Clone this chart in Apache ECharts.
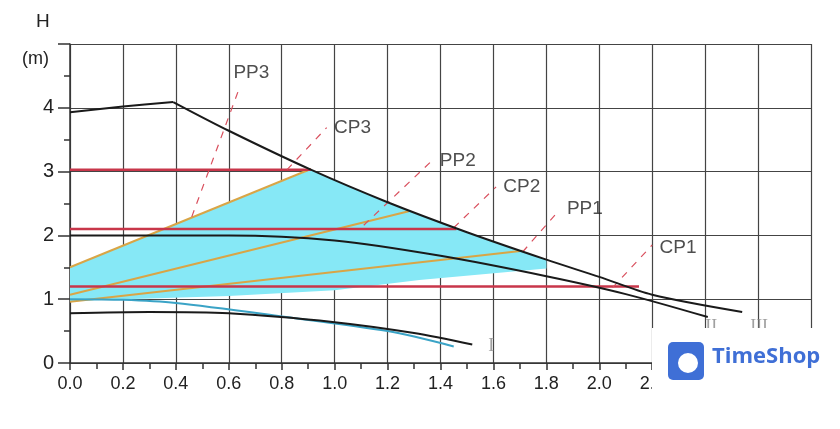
<!DOCTYPE html>
<html>
<head>
<meta charset="utf-8">
<script src="https://cdn.jsdelivr.net/npm/echarts@6/dist/echarts.min.js"></script>
<style>html,body{margin:0;background:#fff}#c{width:840px;height:429px}</style>
</head>
<body>
<div id="c"></div>
<script>
// pump curves (flow, head)
const curveIIIrise = [[0,3.93],[0.2,4.02],[0.39,4.09]];
const curveIII = [[0.39,4.09],[0.6,3.64],[0.91,3.03],[1.2,2.52],[1.5,2.05],[1.8,1.62],[2.0,1.35],[2.2,1.07],[2.54,0.8]];
const curveII = [[0,2.0],[0.6,2.0],[1.0,1.92],[1.4,1.68],[1.8,1.36],[2.1,1.08],[2.41,0.72]];
const curveI = [[0,0.78],[0.3,0.8],[0.6,0.78],[1.0,0.64],[1.3,0.47],[1.52,0.29]];
const blueLine = [[0,1.0],[0.2,0.99],[0.4,0.94],[0.8,0.73],[1.2,0.5],[1.45,0.26]];
const orangeLines = [[[0,1.5],[0.91,3.04]],[[0,1.07],[1.28,2.38]],[[0,0.96],[1.71,1.76]]];
const redLines = [[[0,3.03],[0.91,3.03]],[[0,2.1],[1.46,2.1]],[[0,1.2],[2.15,1.2]]];
const dashLines = [[[0.46,2.29],[0.64,4.31]],[[0.82,3.03],[0.97,3.69]],[[1.11,2.16],[1.36,3.14]],[[1.45,2.12],[1.61,2.76]],[[1.71,1.74],[1.85,2.4]],[[2.05,1.18],[2.2,1.85]]];
const dashNames = ['PP3','CP3','PP2','CP2','PP1','CP1'];
const dashLabelPos = [[0.61,4.55],[0.99,3.69],[1.39,3.17],[1.63,2.77],[1.87,2.41],[2.22,1.8]];
const cyanArea = [[0,1.5],[0.91,3.03],[1.2,2.52],[1.5,2.05],[1.8,1.62],[1.8,1.48],[1.32,1.3],[1.0,1.14],[0.6,1.05],[0,0.97]];
const curveNames = ['I','II','III'];
const curveLabelPos = [[1.58,0.26],[2.4,0.56],[2.57,0.56]];
const xMax = 2.8, yMax = 5;

const line = (data, color, width, extra) => Object.assign({
  type: 'line', data, symbol: 'none', silent: true,
  lineStyle: { color, width }, z: 3
}, extra || {});

const series = [];
series.push({
  type: 'custom', silent: true, z: 1,
  renderItem: (params, api) => ({
    type: 'polygon',
    shape: { points: cyanArea.map(p => api.coord(p)) },
    style: { fill: '#86e8f6' }
  }),
  data: [0]
});
orangeLines.forEach(d => series.push(line(d, '#d9a546', 2)));
redLines.forEach(d => series.push(line(d, '#c8364a', 2.5)));
dashLines.forEach(d => series.push(line(d, '#d9505e', 1.2, { lineStyle: { color: '#d9505e', width: 1.2, type: [7, 7] } })));
series.push(line(blueLine, '#3aa3c6', 2, { smooth: 0.3 }));
series.push(line(curveIIIrise, '#1a1a1a', 2, { smooth: 0.3 }));
series.push(line(curveIII, '#1a1a1a', 2, { smooth: 0.3 }));
series.push(line(curveII, '#1a1a1a', 2, { smooth: 0.3 }));
series.push(line(curveI, '#1a1a1a', 2, { smooth: 0.3 }));
series.push({
  type: 'scatter', symbolSize: 0, silent: true, z: 5,
  data: dashLabelPos.map((p, i) => ({ value: p, name: dashNames[i] })),
  label: { show: true, position: 'right', distance: 2, formatter: '{b}', color: '#222', fontSize: 19, fontFamily: 'Liberation Sans' }
});
series.push({
  type: 'scatter', symbolSize: 0, silent: true, z: 5,
  data: curveLabelPos.map((p, i) => ({ value: p, name: curveNames[i] })),
  label: { show: true, position: 'right', distance: 0, formatter: '{b}', color: '#888', fontSize: 18, fontFamily: 'Liberation Serif' }
});

const chart = echarts.init(document.getElementById('c'));
chart.setOption({
  animation: false,
  grid: { left: 70, right: 29, top: 44, bottom: 66, outerBoundsMode: 'none' },
  xAxis: {
    type: 'value', min: 0, max: xMax, interval: 0.2,
    axisLine: { lineStyle: { color: '#333', width: 1.5 } },
    axisTick: { lineStyle: { color: '#333', width: 1.5 }, length: 7 },
    minorTick: { show: true, splitNumber: 2, length: 6, lineStyle: { color: '#333', width: 1.5 } },
    axisLabel: { color: '#222', fontSize: 18, fontFamily: 'Liberation Sans', margin: 12,
      formatter: v => v <= 2.21 ? v.toFixed(1) : '' },
    splitLine: { show: true, lineStyle: { color: '#444', width: 1.2 } }
  },
  yAxis: {
    type: 'value', min: 0, max: yMax, interval: 1,
    axisLine: { lineStyle: { color: '#333', width: 1.5 } },
    axisTick: { length: 12, lineStyle: { color: '#333', width: 1.5 } },
    minorTick: { show: true, splitNumber: 2, length: 6, lineStyle: { color: '#333', width: 1.5 } },
    axisLabel: { color: '#222', fontSize: 20, fontFamily: 'Liberation Sans', margin: 16,
      formatter: v => v < 5 ? String(v) : '' },
    splitLine: { show: true, lineStyle: { color: '#444', width: 1.2 } }
  },
  graphic: [
    { type: 'text', left: 36, top: 12, style: { text: 'H', fill: '#222', fontSize: 19, fontFamily: 'Liberation Sans' } },
    { type: 'text', left: 22, top: 50, style: { text: '(m)', fill: '#222', fontSize: 18, fontFamily: 'Liberation Sans' } },
    { type: 'rect', left: 652, top: 328, shape: { width: 188, height: 101 }, style: { fill: '#fff' }, z: 100 },
    { type: 'rect', left: 668, top: 342, shape: { width: 36, height: 38, r: 5 }, style: { fill: '#3f6fd6' }, z: 101 },
    { type: 'circle', left: 676, top: 351, shape: { r: 11 }, style: { fill: '#fff', stroke: '#3f6fd6', lineWidth: 2 }, z: 102 },
    { type: 'text', left: 712, top: 346, style: { text: 'TimeShop', fill: '#3f6fd6', fontSize: 22, fontWeight: 'bold', fontFamily: 'Open Sans' }, z: 101 }
  ],
  series
});
</script>
</body>
</html>
